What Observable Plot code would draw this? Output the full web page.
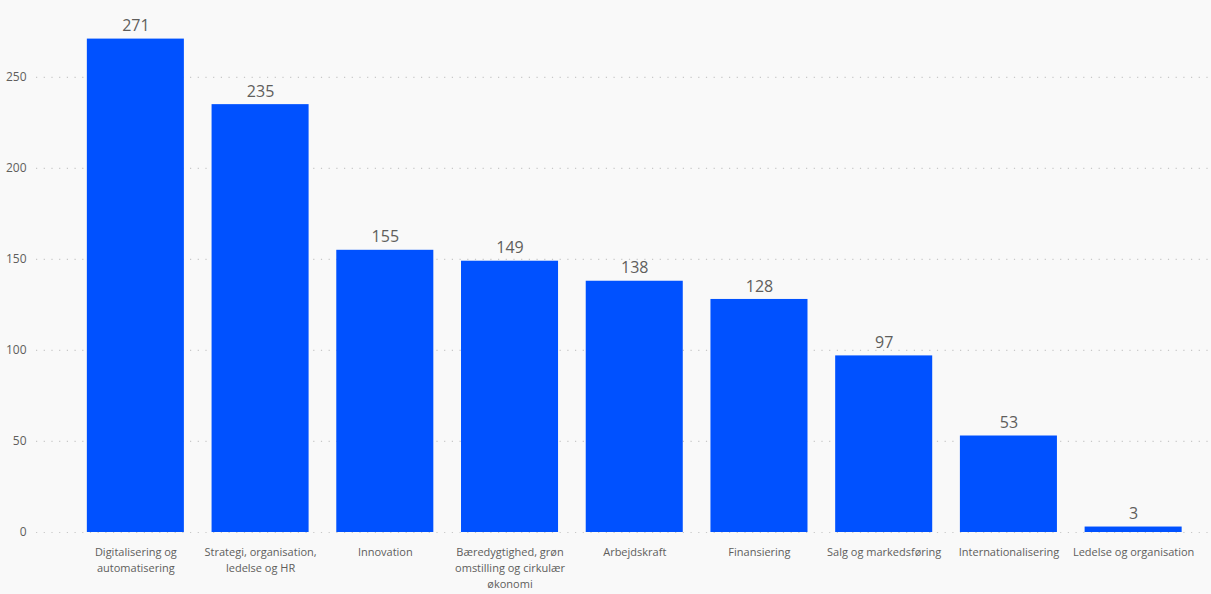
<!DOCTYPE html>
<html>
<head>
<meta charset="utf-8">
<script src="https://cdn.jsdelivr.net/npm/d3@7"></script>
<script src="https://cdn.jsdelivr.net/npm/@observablehq/plot@0.6"></script>
<style>
  html, body { margin: 0; padding: 0; background: #f9f9f9; }
  #chart { width: 1211px; height: 594px; overflow: hidden; }
</style>
</head>
<body>
<div id="chart"></div>
<script>
const categories = [
  "Digitalisering og automatisering",
  "Strategi, organisation, ledelse og HR",
  "Innovation",
  "Bæredygtighed, grøn omstilling og cirkulær økonomi",
  "Arbejdskraft",
  "Finansiering",
  "Salg og markedsføring",
  "Internationalisering",
  "Ledelse og organisation"
];
const values = [271, 235, 155, 149, 138, 128, 97, 53, 3];
const tickLabels = [
  "Digitalisering og\nautomatisering",
  "Strategi, organisation,\nledelse og HR",
  "Innovation",
  "Bæredygtighed, grøn\nomstilling og cirkulær\nøkonomi",
  "Arbejdskraft",
  "Finansiering",
  "Salg og markedsføring",
  "Internationalisering",
  "Ledelse og organisation"
];
const yTicks = [0, 50, 100, 150, 200, 250];

const data = categories.map((c, i) => ({category: c, value: values[i]}));
const labelOf = new Map(categories.map((c, i) => [c, tickLabels[i]]));

const chart = Plot.plot({
  width: 1211,
  height: 594,
  marginLeft: 36,
  marginRight: 0,
  marginTop: 4,
  marginBottom: 62,
  style: {background: "#f9f9f9", fontFamily: "'Open Sans', 'Noto Sans', sans-serif"},
  x: {domain: categories, paddingInner: 0.222, paddingOuter: 0.111, insetLeft: 37, insetRight: 15.5, round: false, label: null},
  y: {domain: [0, 290], label: null},
  marks: [
    Plot.ruleY(yTicks, {stroke: "#c8c8c8", strokeDasharray: "1.2,6.5", strokeWidth: 1.2}),
    Plot.barY(data, {x: "category", y: "value", fill: "#0051ff"}),
    Plot.text(data, {x: "category", y: "value", text: d => String(d.value), dy: -13, fontSize: 16, fill: "#605e5c"}),
    Plot.axisY({ticks: yTicks, tickSize: 0, tickPadding: 10, fontSize: 12, fill: "#605e5c", label: null}),
    Plot.axisX({tickSize: 0, tickPadding: 12, fontSize: 11, lineHeight: 1.45, fill: "#605e5c", tickFormat: d => labelOf.get(d), label: null})
  ]
});
document.getElementById("chart").appendChild(chart);
</script>
</body>
</html>
